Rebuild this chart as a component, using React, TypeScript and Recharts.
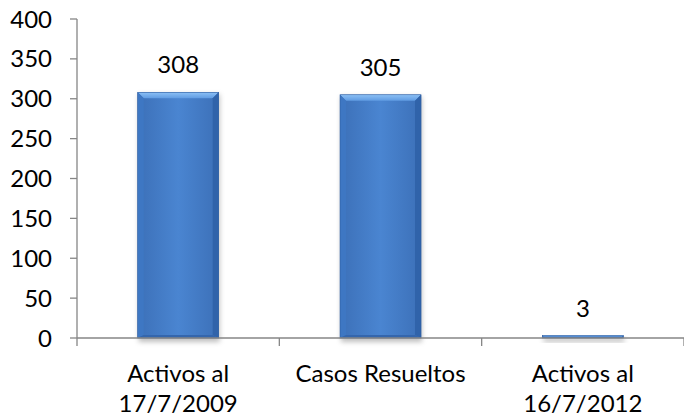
import React from "react";
import { BarChart, Bar, XAxis, YAxis, LabelList } from "recharts";

const categories: string[][] = [
  ["Activos al", "17/7/2009"],
  ["Casos Resueltos"],
  ["Activos al", "16/7/2012"],
];
const values: number[] = [308, 305, 3];
const yTicks: number[] = [0, 50, 100, 150, 200, 250, 300, 350, 400];

const data = categories.map((c, i) => ({ name: c.join("\n"), value: values[i] }));

const FONT = "Lato, 'Open Sans', sans-serif";

const BevelBar = (props: any) => {
  const { x, y, width, height, index } = props;
  if (width <= 0 || height <= 0) return null;
  const b = Math.max(0.5, Math.min(6, height / 2, width / 2));
  const bb = Math.max(0.3, Math.min(3, height / 2));
  const id = `bb${index}`;
  const r = x + width;
  const btm = y + height;
  return (
    <g>
      <defs>
        <linearGradient id={`${id}f`} x1="0" y1="0" x2="1" y2="0">
          <stop offset="0%" stopColor="#3c70b8" />
          <stop offset="50%" stopColor="#4a85d1" />
          <stop offset="100%" stopColor="#3c70b8" />
        </linearGradient>
        <linearGradient id={`${id}t`} x1="0" y1="0" x2="0" y2="1">
          <stop offset="0%" stopColor="#8cc0f5" />
          <stop offset="100%" stopColor="#5f9be2" />
        </linearGradient>
        <filter id={`${id}s`} x="-20%" y="-20%" width="140%" height="140%">
          <feGaussianBlur stdDeviation="2.5" />
        </filter>
      </defs>
      <rect x={x + 1} y={y + 2} width={width} height={height + 2} fill="rgba(0,0,0,0.25)" filter={`url(#${id}s)`} />
      <rect x={x} y={y} width={width} height={height} fill={`url(#${id}f)`} />
      <polygon points={`${x},${y} ${r},${y} ${r - b},${y + b} ${x + b},${y + b}`} fill={`url(#${id}t)`} />
      <polygon points={`${x},${y} ${x + b},${y + b} ${x + b},${btm - bb} ${x},${btm}`} fill="#3e77c3" />
      <polygon points={`${r},${y} ${r - b},${y + b} ${r - b},${btm - bb} ${r},${btm}`} fill="#3063aa" />
      <polygon points={`${x},${btm} ${x + b},${btm - bb} ${r - b},${btm - bb} ${r},${btm}`} fill="#3466ad" />
      <rect x={x} y={y} width={width} height={height} fill="none" stroke="#2f5fa3" strokeWidth={0.6} />
    </g>
  );
};

const XTick = (props: any) => {
  const { x, y, payload, index, visibleTicksCount } = props;
  const half = payload && payload.offset ? payload.offset : 101;
  const lines = String(payload.value).split("\n");
  const last = index === (visibleTicksCount ?? 3) - 1;
  return (
    <g>
      <line x1={x - half} y1={y} x2={x - half} y2={y + 8} stroke="#868686" strokeWidth={1.3} />
      {last && <line x1={x + half} y1={y} x2={x + half} y2={y + 8} stroke="#868686" strokeWidth={1.3} />}
      <text x={x} y={y + 44} textAnchor="middle" fontFamily={FONT} fontSize={24} fill="#000">
        {lines.map((l, i) => (
          <tspan key={i} x={x} dy={i === 0 ? 0 : 30}>
            {l}
          </tspan>
        ))}
      </text>
    </g>
  );
};

export default function App() {
  return (
    <div style={{ position: "absolute", left: 0, top: 0, width: 684, height: 417, background: "#fff" }}>
      <BarChart
        width={684}
        height={417}
        data={data}
        margin={{ top: 19, right: 0, left: 0, bottom: 0 }}
        barCategoryGap="30%"
      >
        <XAxis
          dataKey="name"
          height={79}
          interval={0}
          tickLine={false}
          tickSize={0}
          tickMargin={0}
          tick={<XTick />}
          axisLine={{ stroke: "#868686", strokeWidth: 1.3 }}
        />
        <YAxis
          width={77}
          domain={[0, 400]}
          ticks={yTicks}
          interval={0}
          tickSize={7}
          tickMargin={18}
          axisLine={{ stroke: "#868686", strokeWidth: 1.3 }}
          tickLine={{ stroke: "#868686", strokeWidth: 1.3 }}
          tick={{ fontFamily: FONT, fontSize: 24, fill: "#000" }}
        />
        <Bar dataKey="value" shape={<BevelBar />} isAnimationActive={false}>
          <LabelList
            dataKey="value"
            position="top"
            offset={19}
            fontFamily={FONT}
            fontSize={24}
            fill="#000"
          />
        </Bar>
      </BarChart>
    </div>
  );
}
